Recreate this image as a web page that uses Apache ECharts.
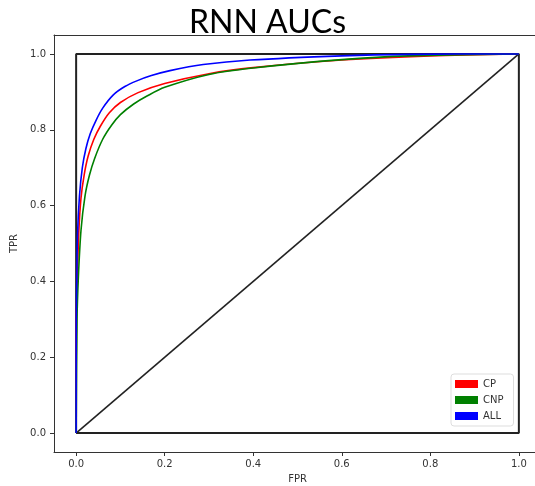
<!DOCTYPE html>
<html>
<head>
<meta charset="utf-8">
<script src="https://cdn.jsdelivr.net/npm/echarts@6/dist/echarts.min.js"></script>
<style>
  html, body { margin: 0; padding: 0; background: #fff; }
  #chart { width: 535px; height: 486px; }
</style>
</head>
<body>
<div id="chart"></div>
<script>
// ROC points (FPR, TPR)
var fprCP  = [0, 0.0005, 0.003, 0.006, 0.011, 0.018, 0.027, 0.04, 0.055, 0.075, 0.1, 0.14, 0.2, 0.3, 0.4, 0.6, 0.8, 1.0];
var tprCP  = [0, 0.3, 0.42, 0.53, 0.62, 0.68, 0.73, 0.775, 0.81, 0.845, 0.872, 0.898, 0.922, 0.948, 0.964, 0.984, 0.995, 1.0];
var fprCNP = [0, 0.002, 0.005, 0.011, 0.02, 0.03, 0.042, 0.06, 0.08, 0.1, 0.13, 0.16, 0.2, 0.3, 0.4, 0.6, 0.75, 1.0];
var tprCNP = [0, 0.3, 0.41, 0.535, 0.625, 0.68, 0.725, 0.775, 0.812, 0.840, 0.868, 0.889, 0.912, 0.946, 0.963, 0.985, 0.995, 1.0];
var fprALL = [0, 0.0003, 0.0015, 0.003, 0.0075, 0.014, 0.022, 0.032, 0.045, 0.06, 0.084, 0.11, 0.137, 0.17, 0.212, 0.287, 0.393, 0.6, 0.75, 1.0];
var tprALL = [0, 0.3, 0.404, 0.52, 0.625, 0.7, 0.75, 0.79, 0.825, 0.857, 0.892, 0.914, 0.929, 0.943, 0.956, 0.972, 0.984, 0.995, 0.999, 1.0];

var squareX = [0, 0, 1, 1, 0];
var squareY = [0, 1, 1, 0, 0];
var diagX = [0, 1];
var diagY = [0, 1];

var tickValues = [0, 0.2, 0.4, 0.6, 0.8, 1.0];
var names = ['CP', 'CNP', 'ALL'];
var colors = ['#ff0000', '#008000', '#0000ff'];

function pairs(xs, ys) {
    return xs.map(function (x, i) { return [x, ys[i]]; });
}

var tickFont = { fontFamily: 'DejaVu Sans', fontSize: 10, color: '#333' };
var spine = { show: true, onZero: false, lineStyle: { color: '#333', width: 1 } };

var curves = [[fprCP, tprCP], [fprCNP, tprCNP], [fprALL, tprALL]].map(function (c, i) {
    return {
        name: names[i],
        type: 'line',
        data: pairs(c[0], c[1]),
        showSymbol: false,
        smooth: 0.3,
        color: colors[i],
        lineStyle: { color: colors[i], width: 1.6 },
        z: 3 + i
    };
});

var option = {
    animation: false,
    title: {
        text: 'RNN AUCs',
        left: 'center',
        top: 2,
        textStyle: { fontFamily: 'Lato', fontSize: 32, fontWeight: 'normal', color: '#000' }
    },
    grid: {
        left: 54, right: -6, top: 35, bottom: 34,
        containLabel: false, outerBoundsMode: 'none'
    },
    legend: {
        data: names,
        orient: 'vertical',
        left: 451, top: 374,
        icon: 'rect',
        itemWidth: 23, itemHeight: 8, itemGap: 6,
        padding: [5, 10, 5, 4],
        borderColor: '#ddd', borderWidth: 1, borderRadius: 3,
        textStyle: { fontFamily: 'DejaVu Sans', fontSize: 10, color: '#333' }
    },
    xAxis: [{
        type: 'value', min: -0.05, max: 1.05, position: 'bottom',
        name: 'FPR', nameLocation: 'middle', nameGap: 22,
        nameTextStyle: tickFont,
        axisLine: spine,
        axisTick: { show: true, length: 4, lineStyle: { color: '#333' }, customValues: tickValues },
        axisLabel: Object.assign({ margin: 7, customValues: tickValues, formatter: function (v) { return v.toFixed(1); } }, tickFont),
        splitLine: { show: false }
    }, {
        type: 'value', min: -0.05, max: 1.05, position: 'top',
        axisLine: spine,
        axisTick: { show: false },
        axisLabel: { show: false },
        splitLine: { show: false }
    }],
    yAxis: {
        type: 'value', min: -0.05, max: 1.05,
        name: 'TPR', nameLocation: 'middle', nameGap: 29,
        nameTextStyle: tickFont,
        axisLine: spine,
        axisTick: { show: true, length: 4, lineStyle: { color: '#333' }, customValues: tickValues },
        axisLabel: Object.assign({ margin: 8, customValues: tickValues, formatter: function (v) { return v.toFixed(1); } }, tickFont),
        splitLine: { show: false }
    },
    series: [
        {
            type: 'line', data: pairs(squareX, squareY), showSymbol: false, silent: true,
            lineStyle: { color: '#222', width: 2 }, z: 2
        },
        {
            type: 'line', data: pairs(diagX, diagY), showSymbol: false, silent: true,
            lineStyle: { color: '#222', width: 1.6 }, z: 2
        }
    ].concat(curves)
};

var chart = echarts.init(document.getElementById('chart'));
chart.setOption(option);
</script>
</body>
</html>
